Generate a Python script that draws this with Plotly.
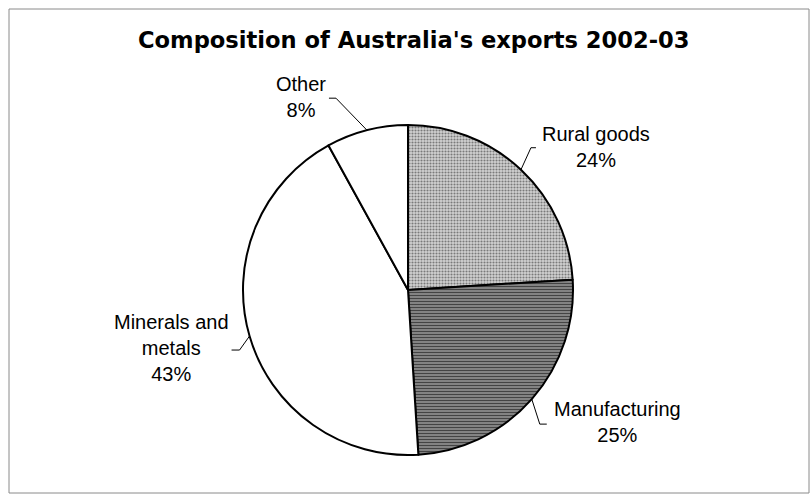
import math
import plotly.graph_objects as go

# Export composition, 2002-03 (share of total, %)
categories = ["Rural goods", "Manufacturing", "Minerals and metals", "Other"]
shares = [24, 25, 43, 8]
label_text = ["Rural goods", "Manufacturing", "Minerals and<br>metals", "Other"]

# Canvas and pie geometry (pixels)
W, H = 811, 495
CX, CY, R = 408, 290, 165

# Slice fills
fill_bg = ["#d2d2d2", "#8a8a8a", "#ffffff", "#ffffff"]
fill_fg = ["#7a7a7a", "#444444", "#ffffff", "#ffffff"]
fill_shape = [".", "-", "", ""]

# Leader/label layout per slice: elbow offset from the rim point,
# horizontal tick length, and label-centre offset from the tick end
leader_style = {
    "Rural goods":         dict(elbow=(10, -22), tick=5,  label=(60, -1)),
    "Manufacturing":       dict(elbow=(8, 25),   tick=7,  label=(71, -2)),
    "Minerals and metals": dict(elbow=(-10, 14), tick=-8, label=(-60, -2)),
    "Other":               dict(elbow=(-31, -32), tick=-7, label=(-28, -1)),
}


def fx(x):
    return x / W


def fy(y):
    return 1 - y / H


fig = go.Figure(
    go.Pie(
        labels=categories,
        values=shares,
        sort=False,
        direction="clockwise",
        rotation=0,
        textinfo="none",
        hoverinfo="label+percent",
        showlegend=False,
        marker=dict(
            colors=fill_bg,
            line=dict(color="#000000", width=2),
            pattern=dict(
                shape=fill_shape,
                fgcolor=fill_fg,
                bgcolor=fill_bg,
                size=3,
                solidity=0.4,
            ),
        ),
        domain=dict(x=[fx(CX - R), fx(CX + R)], y=[fy(CY + R), fy(CY - R)]),
    )
)

shapes = [
    # chart frame
    dict(type="rect", xref="paper", yref="paper",
         x0=fx(9), x1=fx(809), y0=fy(493), y1=fy(9),
         line=dict(color="#8a8a8a", width=1), fillcolor="rgba(0,0,0,0)", layer="below"),
]
annotations = [
    dict(text="<b>Composition of Australia's exports 2002-03</b>",
         x=fx(414), y=fy(40), xref="paper", yref="paper",
         xanchor="center", yanchor="middle", showarrow=False,
         font=dict(family="DejaVu Sans", size=22.6, color="#000000")),
]

total = sum(shares)
cum = 0
for cat, val, txt in zip(categories, shares, label_text):
    mid = (cum + val / 2) / total * 2 * math.pi
    cum += val
    st = leader_style[cat]
    # rim point at the slice's mid-angle (clockwise from 12 o'clock)
    rx = CX + R * math.sin(mid)
    ry = CY - R * math.cos(mid)
    ex, ey = rx + st["elbow"][0], ry + st["elbow"][1]
    tx, ty = ex + st["tick"], ey
    path = f"M {fx(rx)},{fy(ry)} L {fx(ex)},{fy(ey)} L {fx(tx)},{fy(ty)}"
    shapes.append(dict(type="path", xref="paper", yref="paper", path=path,
                       line=dict(color="#000000", width=1)))
    lx, ly = tx + st["label"][0], ty + st["label"][1]
    annotations.append(dict(
        text=f"{txt}<br>{val}%", x=fx(lx), y=fy(ly), xref="paper", yref="paper",
        xanchor="center", yanchor="middle", showarrow=False, align="center",
        font=dict(family="Liberation Sans", size=20, color="#000000"),
    ))

fig.update_layout(
    width=W, height=H,
    margin=dict(l=0, r=0, t=0, b=0),
    paper_bgcolor="#ffffff",
    plot_bgcolor="#ffffff",
    shapes=shapes,
    annotations=annotations,
)

fig.write_html("out.html")
